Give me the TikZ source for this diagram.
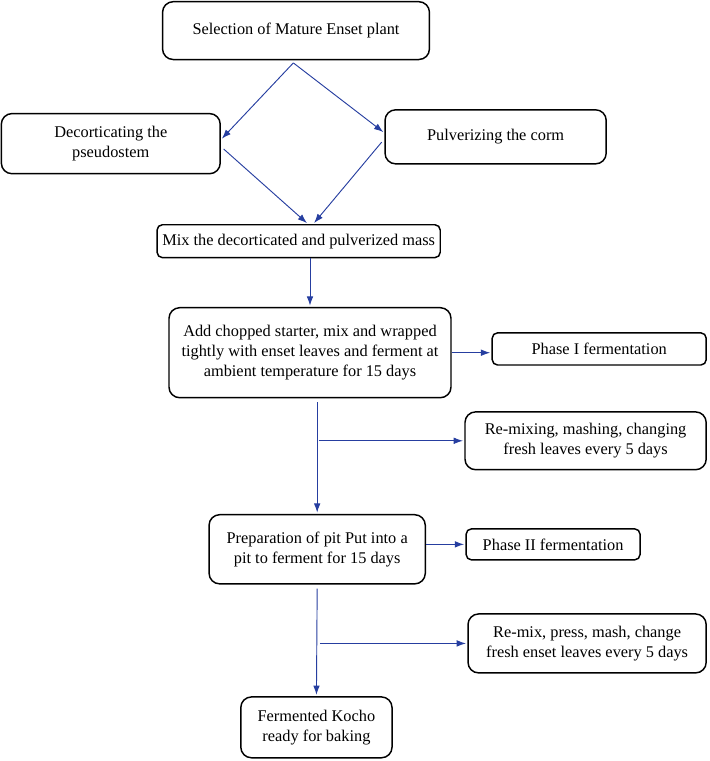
\documentclass[tikz,border=0pt]{standalone}
\usepackage{fontspec}
\setmainfont{Liberation Serif}
\usetikzlibrary{arrows.meta}
\definecolor{flowblue}{RGB}{38,62,160}

\begin{document}
\begin{tikzpicture}[
  box/.style={draw, line width=1.1pt, rounded corners=8pt, align=center, inner sep=2pt, font=\fontsize{12.3}{15}\selectfont},
  thinbox/.style={box, rounded corners=4pt},
  flow/.style={draw=flowblue, line width=0.7pt, -{Latex[length=7pt,width=5pt]}, shorten >=1pt}
]
\useasboundingbox (0,0) rectangle (18.78,20.13);

% Start and the two treatments
\node[box, minimum width=7.06cm, minimum height=1.53cm] (sel) at (7.83,19.32) {Selection of Mature Enset plant};
\node[box, minimum width=5.79cm, minimum height=1.59cm] (dec) at (2.93,16.33) {Decorticating the\\pseudostem};
\node[box, minimum width=5.85cm, minimum height=1.43cm] (pul) at (13.11,16.51) {Pulverizing the corm};

% Main line
\node[thinbox, minimum width=7.49cm, minimum height=0.87cm] (mix) at (7.90,13.75) {Mix the decorticated and pulverized mass};
\node[box, minimum width=7.46cm, minimum height=2.38cm] (add) at (8.20,10.80) {Add chopped starter, mix and wrapped\\tightly with enset leaves and ferment at\\ambient temperature for 15 days};
\node[box, minimum width=5.72cm, minimum height=1.83cm] (prep) at (8.39,5.60) {Preparation of pit Put into a\\pit to ferment for 15 days};
\node[box, minimum width=4.00cm, minimum height=1.61cm] (koc) at (8.37,0.89) {Fermented Kocho\\ready for baking};

% Side boxes
\node[thinbox, minimum width=5.66cm, minimum height=0.85cm] (ph1) at (15.85,10.90) {Phase I fermentation};
\node[box, minimum width=6.38cm, minimum height=1.53cm] (rm1) at (15.49,8.47) {Re-mixing, mashing, changing\\fresh leaves every 5 days};
\node[thinbox, minimum width=4.60cm, minimum height=0.82cm] (ph2) at (14.63,5.73) {Phase II fermentation};
\node[box, minimum width=6.30cm, minimum height=1.56cm] (rm2) at (15.53,3.11) {Re-mix, press, mash, change\\fresh enset leaves every 5 days};

% Diamond
\draw[flow] ([xshift=-2pt,yshift=-2pt]sel.south) -- ([yshift=3pt]dec.east);
\draw[flow] ([xshift=-2pt,yshift=-2pt]sel.south) -- ([yshift=3pt]pul.west);
\draw[flow] ([xshift=2pt,yshift=-4pt]dec.east) -- ([xshift=7pt]mix.north);
\draw[flow] ([xshift=-2pt,yshift=-4pt]pul.west) -- ([xshift=11pt]mix.north);

% Down the main line
\draw[flow] (add.north |- mix.south) -- (add.north);
\draw[flow] ([yshift=-3pt]add.south -| prep.north) -- (prep.north);
\draw[flow] ([yshift=-3pt]prep.south) -- (koc.north);

% Branches
\draw[flow] (add.east) -- (add.east -| ph1.west);
\draw[flow] ([xshift=1pt]rm1.west -| prep.north) -- (rm1.west);
\draw[flow] (ph2.west -| prep.east) -- (ph2.west);
\draw[flow] ([xshift=2pt]rm2.west -| prep.north) -- (rm2.west);

\end{tikzpicture}
\end{document}
